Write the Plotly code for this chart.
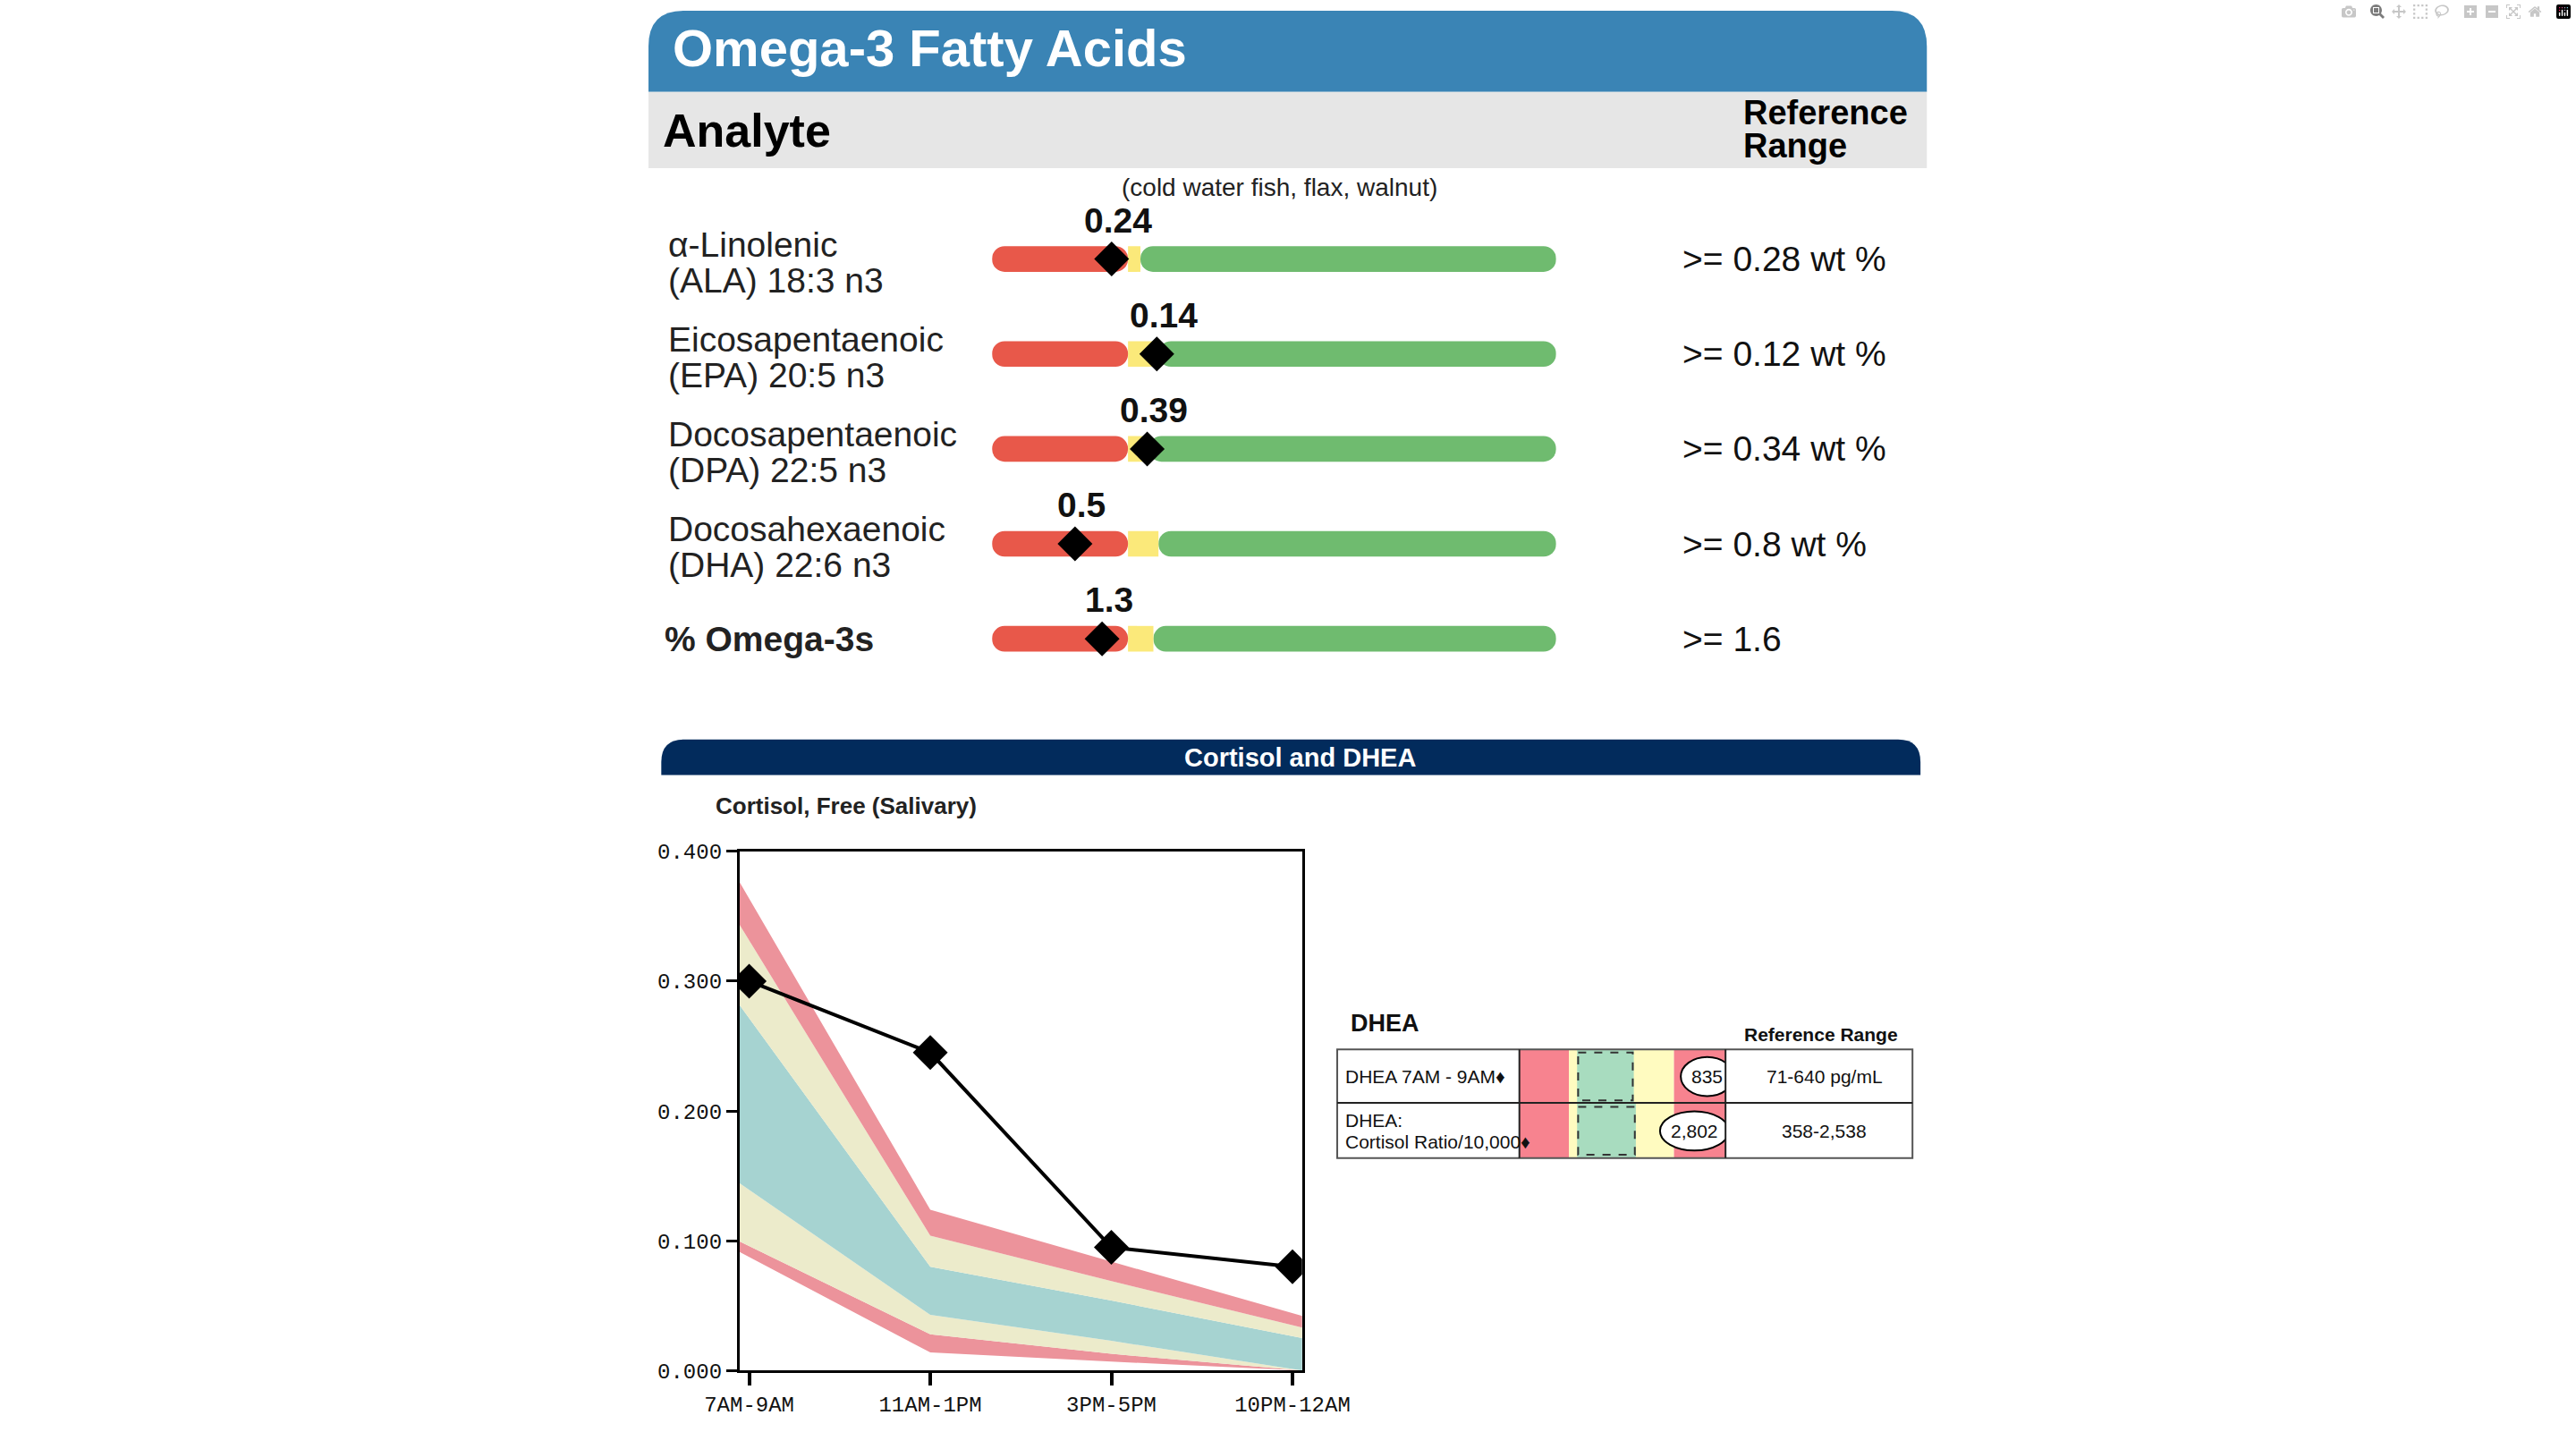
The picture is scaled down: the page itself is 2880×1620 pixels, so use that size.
import plotly.graph_objects as go

W, H = 2880, 1620
DW, DH = 1560, 878
def px(x): return x / DW
def py(y): return 1 - y / DH

# ---------------- data ----------------
omega_line1 = ["α-Linolenic", "Eicosapentaenoic", "Docosapentaenoic", "Docosahexaenoic", "<b>% Omega-3s</b>"]
omega_line2 = ["(ALA) 18:3 n3", "(EPA) 20:5 n3", "(DPA) 22:5 n3", "(DHA) 22:6 n3", ""]
omega_values = ["0.24", "0.14", "0.39", "0.5", "1.3"]
omega_refs = [">= 0.28 wt %", ">= 0.12 wt %", ">= 0.34 wt %", ">= 0.8 wt %", ">= 1.6"]
omega_red_end = [24.1, 24.1, 24.1, 24.1, 24.1]
omega_yellow_end = [26.3, 29.5, 27.8, 29.5, 28.6]
omega_marker = [21.2, 29.2, 27.5, 14.7, 19.5]

cort_cats = ["7AM-9AM", "11AM-1PM", "3PM-5PM", "10PM-12AM"]
cort_pos = [0, 1, 2, 3]
cort_vals = [0.300, 0.245, 0.095, 0.080]
band_x = [-0.06, 1, 2, 3.06]
red_bot = [0.092, 0.014, 0.007, 0.0]
yel_bot = [0.100, 0.028, 0.013, 0.0]
teal_bot = [0.145, 0.043, 0.023, 0.0]
teal_top = [0.283, 0.080, 0.054, 0.025]
yel_top = [0.345, 0.104, 0.069, 0.033]
red_top = [0.378, 0.124, 0.084, 0.042]

dhea_line1 = ["DHEA 7AM - 9AM♦", "DHEA:"]
dhea_line2 = ["", "Cortisol Ratio/10,000♦"]
dhea_values = ["835", "2,802"]
dhea_refs = ["71-640 pg/mL", "358-2,538"]
dhea_marker_lo = [78.3, 68.2]
dhea_marker_hi = [103.9, 101.6]
dhea_zones = [(0, 24, "#f7838f"), (24, 75, "#fffbc0"), (75, 100, "#f7838f")]
dhea_green = [(28, 55.5), (28, 56.5)]

FONT = "Liberation Sans"
fig = go.Figure()

# ---------------- omega bars ----------------
RED, YEL, GRN = "#e8584a", "#fbe97a", "#6fbb6f"
rows = list(range(len(omega_line1)))
fig.add_trace(go.Bar(y=rows, x=[100 - y for y in omega_yellow_end], base=omega_yellow_end,
                     orientation="h", width=0.27, marker=dict(color=GRN, cornerradius=15, line_width=0),
                     xaxis="x3", yaxis="y3", showlegend=False))
fig.add_trace(go.Bar(y=rows, x=[y - r for y, r in zip(omega_yellow_end, omega_red_end)], base=omega_red_end,
                     orientation="h", width=0.27, marker=dict(color=YEL, line_width=0),
                     xaxis="x3", yaxis="y3", showlegend=False))
fig.add_trace(go.Bar(y=rows, x=[-r for r in omega_red_end], base=omega_red_end,
                     orientation="h", width=0.27, marker=dict(color=RED, cornerradius=15, line_width=0),
                     xaxis="x3", yaxis="y3", showlegend=False))
fig.add_trace(go.Scatter(y=rows, x=omega_marker, mode="markers",
                         marker=dict(symbol="diamond", size=30, color="black"),
                         xaxis="x3", yaxis="y3", showlegend=False))

# ---------------- cortisol ----------------
bands = [(red_bot, None), (yel_bot, "#ec939b"), (teal_bot, "#ecebcb"),
         (teal_top, "#a6d3d1"), (yel_top, "#ecebcb"), (red_top, "#ec939b")]
for vals, col in bands:
    fig.add_trace(go.Scatter(x=band_x, y=vals, mode="lines", line=dict(width=0),
                             fill=None if col is None else "tonexty",
                             fillcolor=col, showlegend=False, hoverinfo="skip"))
fig.add_trace(go.Scatter(x=cort_pos, y=cort_vals, mode="lines+markers",
                         line=dict(color="black", width=4),
                         marker=dict(symbol="diamond", size=30, color="black"), showlegend=False))

shapes, ann = [], []

def txt(x, y, text, size, xanchor="left", xref="paper", yref="paper", color="#111", bold=False):
    if bold:
        text = f"<b>{text}</b>"
    ann.append(dict(x=x, y=y, xref=xref, yref=yref, text=text, showarrow=False,
                    xanchor=xanchor, yanchor="middle", font=dict(size=size, color=color, family=FONT)))

def rounded_top(x0, x1, y0, y1, r, color):
    rx, ry = px(r), r / DH
    X0, X1, Y0, Y1 = px(x0), px(x1), py(y0), py(y1)
    path = (f"M {X0},{Y1} L {X0},{Y0 - ry} Q {X0},{Y0} {X0 + rx},{Y0} "
            f"L {X1 - rx},{Y0} Q {X1},{Y0} {X1},{Y0 - ry} L {X1},{Y1} Z")
    return dict(type="path", xref="paper", yref="paper", path=path, fillcolor=color, line_width=0, layer="below")

shapes.append(rounded_top(384, 1184, 0, 50, 22, "#3a84b5"))
shapes.append(dict(type="rect", xref="paper", yref="paper", x0=px(384), x1=px(1184), y0=py(97), y1=py(50),
                   fillcolor="#e6e6e6", line_width=0, layer="below"))
txt(px(398), py(23), "Omega-3 Fatty Acids", 58, color="white", bold=True)
txt(px(392), py(74), "Analyte", 52, color="black", bold=True)
txt(px(1068), py(63), "Reference", 38, color="black", bold=True)
txt(px(1068), py(83), "Range", 38, color="black", bold=True)
txt(px(779), py(109), "(cold water fish, flax, walnut)", 28, xanchor="center", color="#222")

for i in rows:
    if omega_line2[i]:
        txt(px(395), py(144 + 58.5 * i), omega_line1[i], 39, color="#222")
        txt(px(395), py(166 + 58.5 * i), omega_line2[i], 39, color="#222")
    else:
        txt(px(393), i, omega_line1[i], 39, yref="y3", color="#222")
    txt(px(1030), i, omega_refs[i], 39, yref="y3")
    txt(omega_marker[i] + 1.2, i - 0.41, omega_values[i], 39, xanchor="center", xref="x3", yref="y3", bold=True)

shapes.append(rounded_top(392, 1180, 449, 471, 14, "#022b5c"))
txt(px(792), py(460), "Cortisol and DHEA", 29, xanchor="center", color="white", bold=True)
txt(px(425), py(490), "Cortisol, Free (Salivary)", 26, color="#222", bold=True)

# ---------------- DHEA table ----------------
for z0, z1, c in dhea_zones:
    shapes.append(dict(type="rect", xref="x4", yref="y4", x0=z0, x1=z1, y0=0, y1=2, fillcolor=c, line_width=0))
for r, (g0, g1) in enumerate(dhea_green):
    shapes.append(dict(type="rect", xref="x4", yref="y4", x0=g0, x1=g1, y0=r, y1=r + 1,
                       fillcolor="#a8dcbf", line_width=0))
    shapes.append(dict(type="rect", xref="x4", yref="y4", x0=g0 + 0.5, x1=g1 - 0.5, y0=r + 0.06, y1=r + 0.94,
                       fillcolor="rgba(0,0,0,0)", line=dict(color="#333", width=2, dash="dash")))
    shapes.append(dict(type="circle", xref="x4", yref="y4", x0=dhea_marker_lo[r], x1=dhea_marker_hi[r],
                       y0=r + 0.14, y1=r + 0.86, fillcolor="white", line=dict(color="black", width=2)))
    txt((dhea_marker_lo[r] + dhea_marker_hi[r]) / 2, r + 0.5, dhea_values[r], 21, xanchor="center",
        xref="x4", yref="y4")
    if dhea_line2[r]:
        txt(px(819), r + 0.3, dhea_line1[r], 21, yref="y4")
        txt(px(819), r + 0.7, dhea_line2[r], 21, yref="y4")
    else:
        txt(px(819), r + 0.5, dhea_line1[r], 21, yref="y4")
    txt(px(1120), r + 0.5, dhea_refs[r], 21, xanchor="center", yref="y4")
shapes.append(dict(type="rect", xref="paper", yref="paper", x0=px(815), x1=px(1175), y0=py(707), y1=py(640),
                   line=dict(color="#555", width=2)))
shapes.append(dict(type="line", xref="paper", yref="paper", x0=px(815), x1=px(1175), y0=py(673), y1=py(673),
                   line=dict(color="#222", width=2)))
for xx in [929, 1058]:
    shapes.append(dict(type="line", xref="paper", yref="paper", x0=px(xx), x1=px(xx), y0=py(640), y1=py(707),
                       line=dict(color="#222", width=2)))
txt(px(822), py(624), "DHEA", 27, bold=True)
txt(px(1118), py(631), "Reference Range", 21, xanchor="center", bold=True)

MONO = dict(family="Liberation Mono", size=24, color="#111")
fig.update_layout(
    width=W, height=H, margin=dict(l=0, r=0, t=0, b=0), plot_bgcolor="white", paper_bgcolor="white",
    barmode="overlay", shapes=shapes, annotations=ann,
    xaxis=dict(domain=[px(441), px(793)], range=[-0.053, 3.053], tickvals=cort_pos, ticktext=cort_cats,
               showgrid=False, zeroline=False, showline=True, linecolor="black", linewidth=3, mirror=True,
               ticks="outside", ticklen=14, tickwidth=4, tickcolor="black", tickfont=MONO),
    yaxis=dict(domain=[py(838), py(518)], range=[0, 0.4], dtick=0.1, tickformat=".3f",
               showgrid=False, zeroline=False, showline=True, linecolor="black", linewidth=3, mirror=True,
               ticks="outside", ticklen=12, tickwidth=3, tickcolor="black", tickfont=MONO),
    xaxis3=dict(domain=[px(599), px(952)], range=[0, 100], visible=False, anchor="y3"),
    yaxis3=dict(domain=[py(416.25), py(123.75)], range=[4.5, -0.5], visible=False, anchor="x3"),
    xaxis4=dict(domain=[px(929), px(1058)], range=[0, 100], visible=False, anchor="y4"),
    yaxis4=dict(domain=[py(707), py(640)], range=[2, 0], visible=False, anchor="x4"),
)
fig.write_html("out.html",
               post_script="document.body.style.margin='0';document.documentElement.style.overflow='hidden';")
